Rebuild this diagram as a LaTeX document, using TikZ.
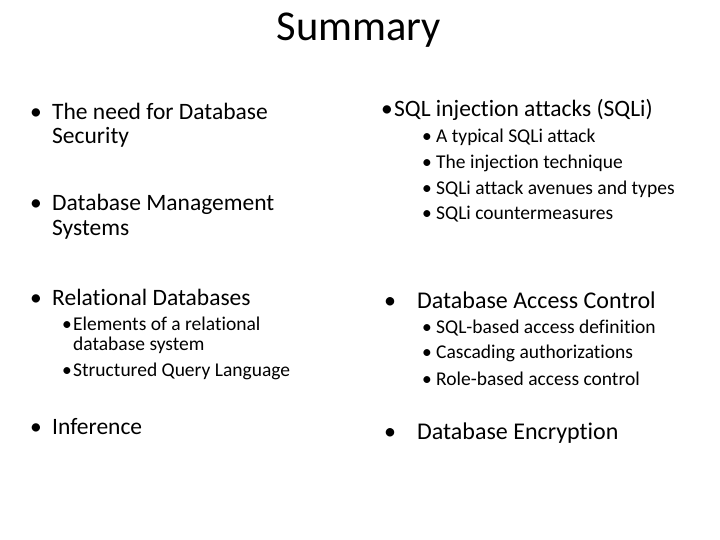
\documentclass[tikz,border=0pt]{standalone}
\usepackage{fontspec}
\setmainfont{Carlito}[Ligatures=NoCommon]
\newcommand{\bul}[1]{\makebox[#1][l]{\textbullet}}
\begin{document}
\begin{tikzpicture}[x=1pt,y=-1pt,
  mainitem/.style={anchor=west,inner sep=0pt,font=\fontsize{23.5}{28}\selectfont},
  subitem/.style={anchor=west,inner sep=0pt,font=\fontsize{19.5}{23}\selectfont},
  bigitem/.style={anchor=west,inner sep=0pt,font=\fontsize{24}{29}\selectfont}]
  \useasboundingbox (0,0) rectangle (720,540);
  \node[font=\fontsize{42.5}{50}\selectfont] (title) at (359,30) {Summary};

  % left column
  \node[mainitem] (need) at (30,111) {\bul{22pt}The need for Database};
  \node[mainitem] (need2) at (52,137) {Security};
  \node[mainitem] (dbms) at (30,204) {\bul{22pt}Database Management};
  \node[mainitem] (dbms2) at (52,230) {Systems};
  \node[mainitem] (rel) at (30,297) {\bul{22pt}Relational Databases};
  \node[subitem] (elem) at (62,324) {\bul{11pt}Elements of a relational};
  \node[subitem] (elem2) at (73,345) {database system};
  \node[subitem] (sql) at (62,371) {\bul{11pt}Structured Query Language};
  \node[mainitem] (inf) at (30,427) {\bul{22pt}Inference};

  % right column
  \node[mainitem] (sqli) at (381,110) {\bul{13pt}SQL injection attacks (SQLi)};
  \node[subitem] (typ) at (422,137) {\bul{14pt}A typical SQLi attack};
  \node[subitem] (tech) at (422,163) {\bul{14pt}The injection technique};
  \node[subitem] (ave) at (422,189) {\bul{14pt}SQLi attack avenues and types};
  \node[subitem] (cm) at (422,214) {\bul{14pt}SQLi countermeasures};
  \node[bigitem] (acc) at (384,300) {\bul{33pt}Database Access Control};
  \node[subitem] (def) at (422,328) {\bul{14pt}SQL-based access definition};
  \node[subitem] (casc) at (422,353) {\bul{14pt}Cascading authorizations};
  \node[subitem] (role) at (422,379) {\bul{14pt}Role-based access control};
  \node[bigitem] (enc) at (384,433) {\bul{33pt}Database Encryption};
\end{tikzpicture}
\end{document}
